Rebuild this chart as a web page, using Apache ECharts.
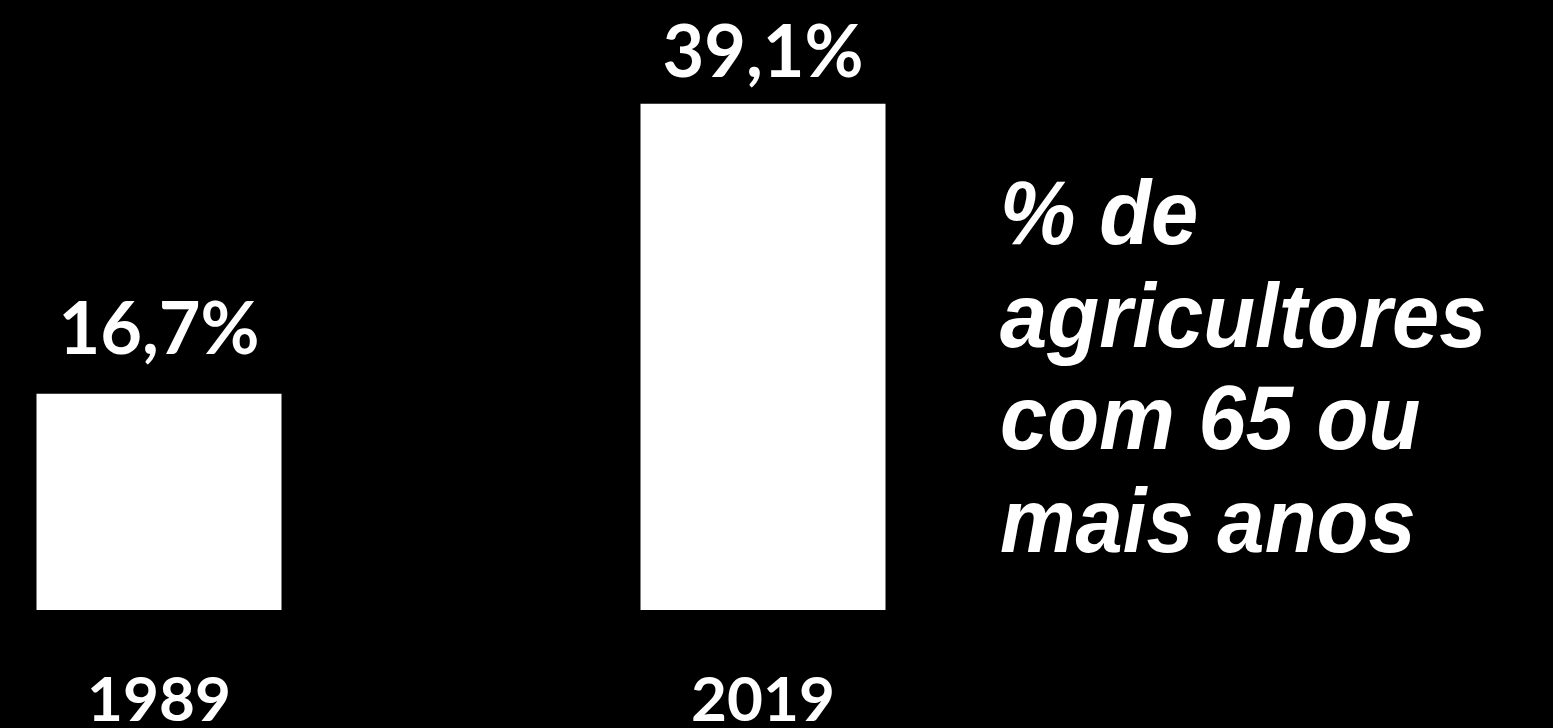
<!DOCTYPE html>
<html>
<head>
<meta charset="utf-8">
<script src="https://cdn.jsdelivr.net/npm/echarts@6/dist/echarts.min.js"></script>
<style>
  html, body { margin: 0; padding: 0; background: #000; }
  #Bar { width: 1553px; height: 728px; }
</style>
</head>
<body>
<div id="Bar"></div>
<script>
// dados
var years = ["1989", "2019"]
var shares = [16.7, 39.1]
var sideLines = ["% de", "agricultores", "com 65 ou", "mais anos"]

// distancia do rotulo ao topo de cada barra
var labelGaps = [27, 14]

var Echarts = echarts.init(document.getElementById("Bar"))
Echarts.setOption({
  backgroundColor: "#000",
  animation: false,
  grid: {
    left: -143,
    width: 1208,
    top: 92,
    bottom: 118,
    outerBoundsMode: "none",
    containLabel: false
  },
  xAxis: {
    type: "category",
    data: years,
    axisLine: { show: false },
    axisTick: { show: false },
    axisLabel: {
      color: "#fff",
      fontFamily: "Lato",
      fontWeight: "bold",
      fontSize: 62,
      margin: 60
    }
  },
  yAxis: {
    type: "value",
    min: 0,
    max: 40,
    show: false,
    splitLine: { show: false }
  },
  series: [
    {
      type: "bar",
      barWidth: 245,
      itemStyle: { color: "#fff" },
      data: shares.map(function (v, i) {
        return { value: v, label: { distance: labelGaps[i] } }
      }),
      label: {
        show: true,
        position: "top",
        color: "#fff",
        fontFamily: "Lato",
        fontWeight: "bold",
        fontSize: 72,
        formatter: function (p) {
          return p.value.toFixed(1).replace(".", ",") + "%"
        }
      }
    }
  ],
  graphic: [
    {
      type: "text",
      left: 1000,
      top: 168,
      scaleY: 1.07,
      style: {
        text: sideLines.join("\n"),
        fill: "#fff",
        font: 'italic bold 85px "Liberation Sans"',
        lineHeight: 95.8
      }
    }
  ]
})
</script>
</body>
</html>
